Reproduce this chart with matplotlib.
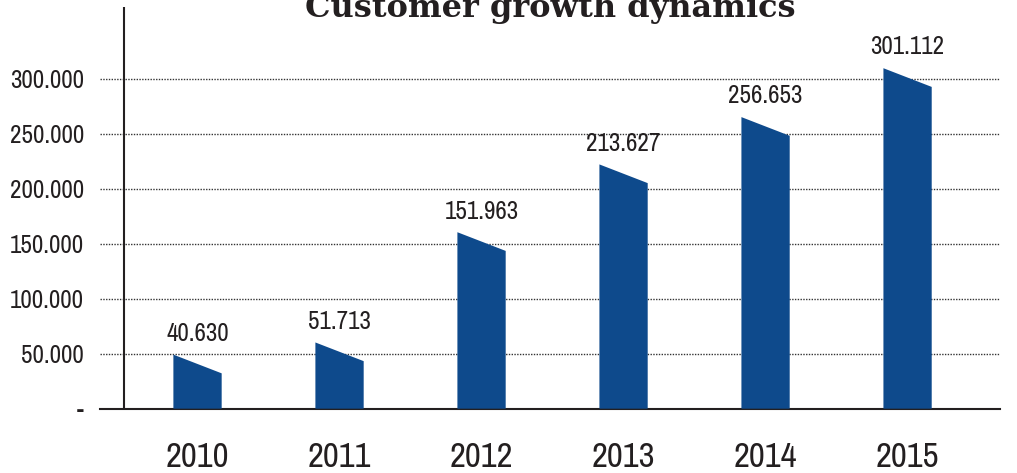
import numpy as np
import matplotlib.pyplot as plt
from matplotlib import font_manager
from matplotlib.patches import Polygon

years = ['2010', '2011', '2012', '2013', '2014', '2015']
customers = [40630, 51713, 151963, 213627, 256653, 301112]
yticks = [0, 50000, 100000, 150000, 200000, 250000, 300000]

bar_color = '#0e4a8c'
ink = '#231f20'

# pick a narrow sans face if one is around, otherwise fall back
narrow_name = None
for f in font_manager.fontManager.ttflist:
    n = f.name.lower()
    if ('condensed' in n or 'narrow' in n) and 'serif' not in n and 'mono' not in n:
        narrow_name = f.name
        break
narrow = [narrow_name, 'Liberation Sans'] if narrow_name else ['Liberation Sans']
label_font = dict(family=narrow, color=ink)

fig = plt.figure(figsize=(10.17, 4.73), dpi=100)
ax = fig.add_axes([0.0983, 0.136, 0.885, 0.849])

x = np.arange(len(years))
half = 0.17      # half bar width
slant = 8500     # top edge drops from left to right by 2*slant

for xi, v in zip(x, customers):
    pts = [(xi - half, 0), (xi - half, v + slant),
           (xi + half, v - slant), (xi + half, 0)]
    ax.add_patch(Polygon(pts, closed=True, facecolor=bar_color,
                         edgecolor='none', zorder=3))
    ax.annotate(f'{v:,}'.replace(',', '.'), (xi, v + slant),
                xytext=(0, 7), textcoords='offset points',
                ha='center', va='bottom', fontsize=18, **label_font)

ax.set_xlim(-0.687, 5.651)
ax.set_ylim(0, 365200)

ax.set_yticks(yticks)
ax.set_yticklabels(['-' if t == 0 else f'{t:,}'.replace(',', '.') for t in yticks],
                   fontsize=18, **label_font)
ax.set_xticks(x)
ax.set_xticklabels(years, fontsize=25, **label_font)
ax.tick_params(axis='y', length=0, pad=11.5)
ax.tick_params(axis='x', length=0, pad=23)

# dotted grid across the full width
for t in yticks[1:]:
    ax.axhline(t, color='#333333', lw=1, ls=(0, (1, 1)), zorder=1)

for s in ['top', 'right', 'left']:
    ax.spines[s].set_visible(False)
ax.spines['bottom'].set_color(ink)
ax.spines['bottom'].set_linewidth(1.5)
ax.axvline(-0.518, color=ink, lw=1.5, zorder=4)

fig.text(0.541, 0.964, 'Customer growth dynamics', ha='center', va='baseline',
         family='DejaVu Serif', fontweight='bold', fontsize=23, color=ink)

fig.savefig('out.png', dpi=100)
